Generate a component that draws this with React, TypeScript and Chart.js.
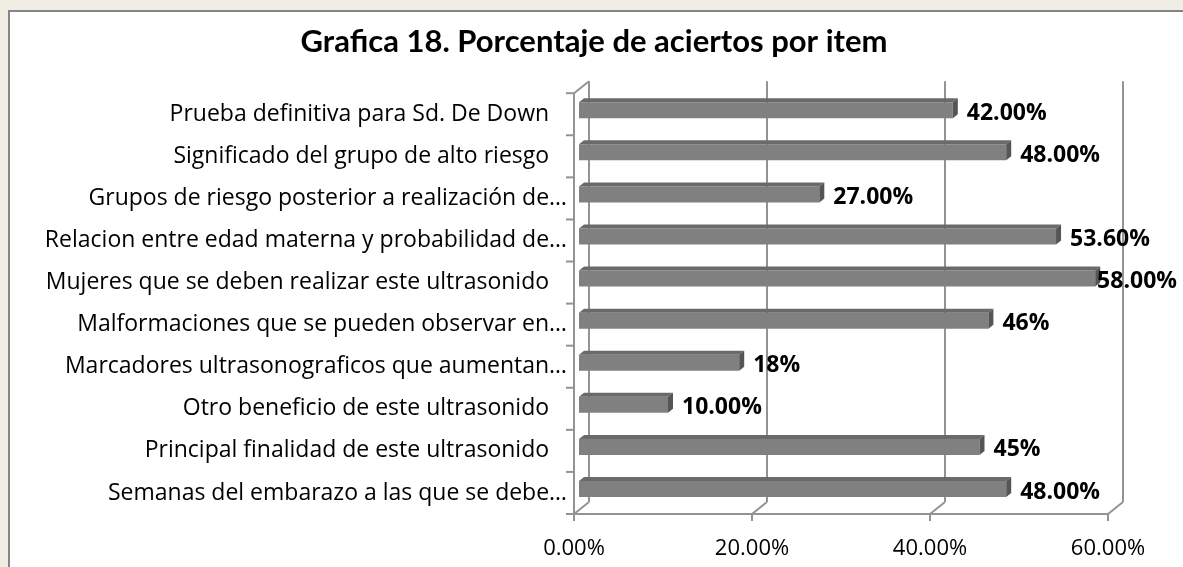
import React, { useEffect, useRef } from "react";
import { Chart, registerables } from "chart.js";

Chart.register(...registerables);

const categories = [
  "Prueba definitiva para Sd. De Down",
  "Significado del grupo de alto riesgo",
  "Grupos de riesgo posterior a realización de…",
  "Relacion entre edad materna y probabilidad de…",
  "Mujeres que se deben realizar este ultrasonido",
  "Malformaciones que se pueden observar en…",
  "Marcadores ultrasonograficos que aumentan…",
  "Otro beneficio de este ultrasonido",
  "Principal finalidad de este ultrasonido",
  "Semanas del embarazo a las que se debe…",
];
const values = [42, 48, 27, 53.6, 58, 46, 18, 10, 45, 48];
const valueLabels = [
  "42.00%",
  "48.00%",
  "27.00%",
  "53.60%",
  "58.00%",
  "46%",
  "18%",
  "10.00%",
  "45%",
  "48.00%",
];
const xTicks = [0, 20, 40, 60];
const titleText = "Grafica 18. Porcentaje de aciertos por item";

const BACK_DX = 15;
const BACK_DY = -12;
const BAR_DX = 5;
const BAR_DY = -4;

const depthPlugin = {
  id: "depth3d",
  afterLayout(chart: any) {
    const tb = chart.titleBlock;
    if (tb) {
      tb.left = 80;
      tb.right = chart.width - 75;
    }
  },
  beforeDatasetsDraw(chart: any) {
    const { ctx, chartArea, scales } = chart;
    const { left, right, top, bottom } = chartArea;
    const x = scales.x;
    const line = (x1: number, y1: number, x2: number, y2: number) => {
      ctx.beginPath();
      ctx.moveTo(x1, y1);
      ctx.lineTo(x2, y2);
      ctx.stroke();
    };
    ctx.save();
    ctx.strokeStyle = "#939393";
    ctx.lineWidth = 2;
    xTicks.forEach((t) => {
      const px = x.getPixelForValue(t);
      line(px + BACK_DX, top + BACK_DY, px + BACK_DX, bottom + BACK_DY);
      line(px, bottom, px + BACK_DX, bottom + BACK_DY);
      line(px, bottom, px, bottom + 7);
    });
    line(left, top, left, bottom + 7);
    line(left, bottom, right, bottom);
    line(left, top, left + BACK_DX, top + BACK_DY);
    const n = categories.length;
    for (let i = 0; i <= n; i++) {
      const yy = top + (i * (bottom - top)) / n;
      line(left - 8, yy, left, yy);
    }
    ctx.restore();
    ctx.save();
    ctx.translate(BAR_DX, BAR_DY);
  },
  afterDatasetsDraw(chart: any) {
    const { ctx } = chart;
    const meta = chart.getDatasetMeta(0);
    meta.data.forEach((bar: any) => {
      const p = bar.getProps(["x", "y", "base", "height"], true);
      const x0 = p.base;
      const x1 = p.x;
      const t = p.y - p.height / 2;
      const b = p.y + p.height / 2;
      ctx.fillStyle = "#6a6a6a";
      ctx.beginPath();
      ctx.moveTo(x0, t);
      ctx.lineTo(x0 + BAR_DX, t + BAR_DY);
      ctx.lineTo(x1 + BAR_DX, t + BAR_DY);
      ctx.lineTo(x1, t);
      ctx.closePath();
      ctx.fill();
      ctx.fillStyle = "#555555";
      ctx.beginPath();
      ctx.moveTo(x1, t);
      ctx.lineTo(x1 + BAR_DX, t + BAR_DY);
      ctx.lineTo(x1 + BAR_DX, b + BAR_DY);
      ctx.lineTo(x1, b);
      ctx.closePath();
      ctx.fill();
    });
    ctx.restore();

    ctx.save();
    ctx.font = 'bold 23px "Open Sans"';
    ctx.fillStyle = "#000";
    ctx.textBaseline = "middle";
    ctx.textAlign = "left";
    meta.data.forEach((bar: any, i: number) => {
      const p = bar.getProps(["x", "y"], true);
      const txt = valueLabels[i];
      const w = ctx.measureText(txt).width;
      let lx = p.x + BAR_DX * 2 + 9;
      if (lx + w > chart.width - 6) lx = chart.width - 6 - w;
      ctx.fillText(txt, lx, p.y - 1);
    });
    ctx.restore();
  },
};

export default function App() {
  const ref = useRef<HTMLCanvasElement | null>(null);
  useEffect(() => {
    if (!ref.current) return;
    const chart = new Chart(ref.current, {
      type: "bar",
      data: {
        labels: categories,
        datasets: [
          {
            data: values,
            backgroundColor: "#808080",
            borderWidth: 0,
            barPercentage: 0.38,
            categoryPercentage: 1,
          },
        ],
      },
      options: {
        indexAxis: "y",
        animation: false,
        responsive: false,
        devicePixelRatio: 1,
        layout: { padding: { left: 0, top: 0, bottom: 0, right: 75 } },
        plugins: {
          legend: { display: false },
          tooltip: { enabled: false },
          title: {
            display: true,
            text: titleText,
            color: "#000",
            font: { family: "Lato", size: 31, weight: "bold", lineHeight: 1.2 },
            padding: { top: 23, bottom: 33 },
          },
        },
        scales: {
          x: {
            type: "linear",
            min: 0,
            max: 60,
            afterFit: (s: any) => {
              s.height = 53;
            },
            afterBuildTicks: (s: any) => {
              s.ticks = xTicks.map((v) => ({ value: v }));
            },
            ticks: {
              color: "#000",
              padding: 22,
              font: { family: "Open Sans", size: 22 },
              callback: (v: any) => Number(v).toFixed(2) + "%",
            },
            grid: { display: false, drawTicks: false, tickLength: 0 },
            border: { display: false },
          },
          y: {
            type: "category",
            afterFit: (s: any) => {
              s.width = 574;
            },
            ticks: {
              color: "#000",
              padding: 7,
              autoSkip: false,
              font: { family: "Open Sans", size: 23 },
              callback: (_v: any, i: number) => {
                const l = categories[i];
                return l.endsWith("…") ? l : l + "   ";
              },
            },
            grid: { display: false, drawTicks: false, tickLength: 0 },
            border: { display: false },
          },
        },
      },
      plugins: [depthPlugin],
    } as any);
    return () => chart.destroy();
  }, []);

  return (
    <div
      style={{
        position: "fixed",
        left: 0,
        top: 0,
        width: 1183,
        height: 567,
        background: "#EFEDE4",
        overflow: "hidden",
      }}
    >
      <div
        style={{
          position: "absolute",
          left: 8,
          top: 10,
          width: 1300,
          height: 700,
          background: "#ffffff",
          borderLeft: "2px solid #858585",
          borderTop: "2px solid #858585",
        }}
      />
      <canvas
        ref={ref}
        width={1183}
        height={567}
        style={{ position: "absolute", left: 0, top: 0, width: 1183, height: 567 }}
      />
    </div>
  );
}
